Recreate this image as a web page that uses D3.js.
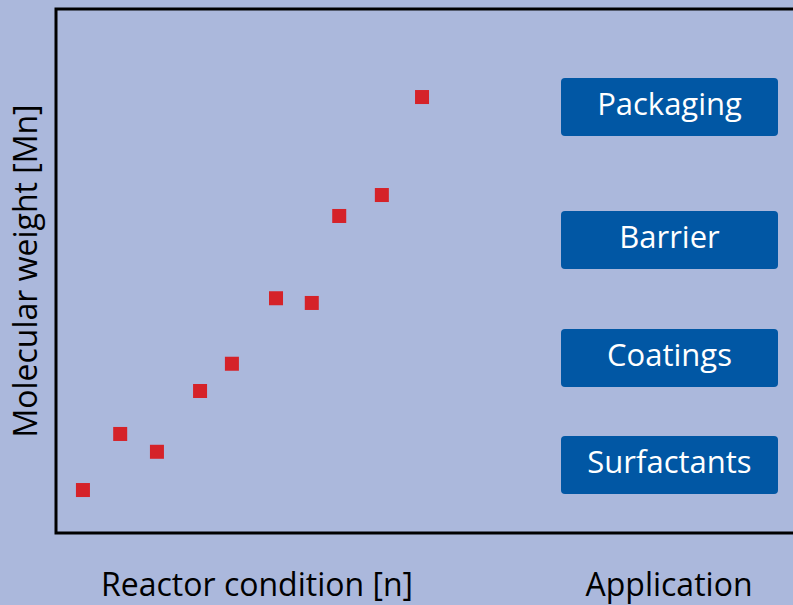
<!DOCTYPE html>
<html>
<head>
<meta charset="utf-8">
<script src="https://cdn.jsdelivr.net/npm/d3@7"></script>
<style>
  html, body { margin: 0; padding: 0; background: #abb8dc; }
  svg { display: block; }
</style>
</head>
<body>
<div class="container"></div>
<script>
const w = 793;
const h = 605;

// reactor condition (n) and molecular weight (Mn), arbitrary units
const conditions = [0.55, 1.31, 2.06, 2.94, 3.59, 4.49, 5.22, 5.78, 6.65, 7.47];
const mnValues = [8.2, 18.9, 15.5, 27.1, 32.3, 44.8, 43.9, 60.5, 64.5, 83.2];

const applications = ['Packaging', 'Barrier', 'Coatings', 'Surfactants'];
const applicationMn = [81.3, 55.9, 33.4, 13.0];

const margin = {
    top: 9,
    right: 0,
    bottom: 72,
    left: 56
}

const svg = d3.select('.container')
    .append('svg')
    .attr('width', w)
    .attr('height', h);

svg.append('rect')
    .attr('width', w)
    .attr('height', h)
    .attr('fill', '#abb8dc');

const x = d3.scaleLinear()
    .domain([0, 10])
    .range([margin.left, margin.left + 490]);

const y = d3.scaleLinear()
    .domain([0, 100])
    .range([h - margin.bottom, margin.top]);

// frame: left, top and bottom lines
svg.append('path')
    .attr('d', `M${w + 2},${margin.top}H${margin.left}V${h - margin.bottom}H${w + 2}`)
    .attr('fill', 'none')
    .attr('stroke', '#000')
    .attr('stroke-width', 3);

svg.append('g')
    .selectAll('rect')
    .data(conditions)
    .join('rect')
    .attr('x', (d, i) => x(d) - 7)
    .attr('y', (d, i) => y(mnValues[i]) - 7)
    .attr('width', 14)
    .attr('height', 14)
    .attr('fill', '#d52229');

const app = svg.append('g')
    .selectAll('g')
    .data(applications)
    .join('g')
    .attr('transform', (d, i) => `translate(561, ${y(applicationMn[i]) - 29})`);

app.append('rect')
    .attr('width', 217)
    .attr('height', 58)
    .attr('rx', 4)
    .attr('fill', '#0157a4');

app.append('text')
    .attr('x', 108.5)
    .attr('y', 37)
    .attr('text-anchor', 'middle')
    .attr('fill', '#fff')
    .style('font-family', 'Open Sans, sans-serif')
    .style('font-size', '31px')
    .text(d => d);

svg.append('text')
    .attr('x', 257)
    .attr('y', 596)
    .attr('text-anchor', 'middle')
    .style('font-family', 'Open Sans, sans-serif')
    .style('font-size', '32px')
    .text('Reactor condition [n]');

svg.append('text')
    .attr('x', 669)
    .attr('y', 596)
    .attr('text-anchor', 'middle')
    .style('font-family', 'Open Sans, sans-serif')
    .style('font-size', '32px')
    .text('Application');

svg.append('text')
    .attr('transform', 'translate(37, 271) rotate(-90)')
    .attr('text-anchor', 'middle')
    .style('font-family', 'Open Sans, sans-serif')
    .style('font-size', '32px')
    .text('Molecular weight [Mn]');
</script>
</body>
</html>
